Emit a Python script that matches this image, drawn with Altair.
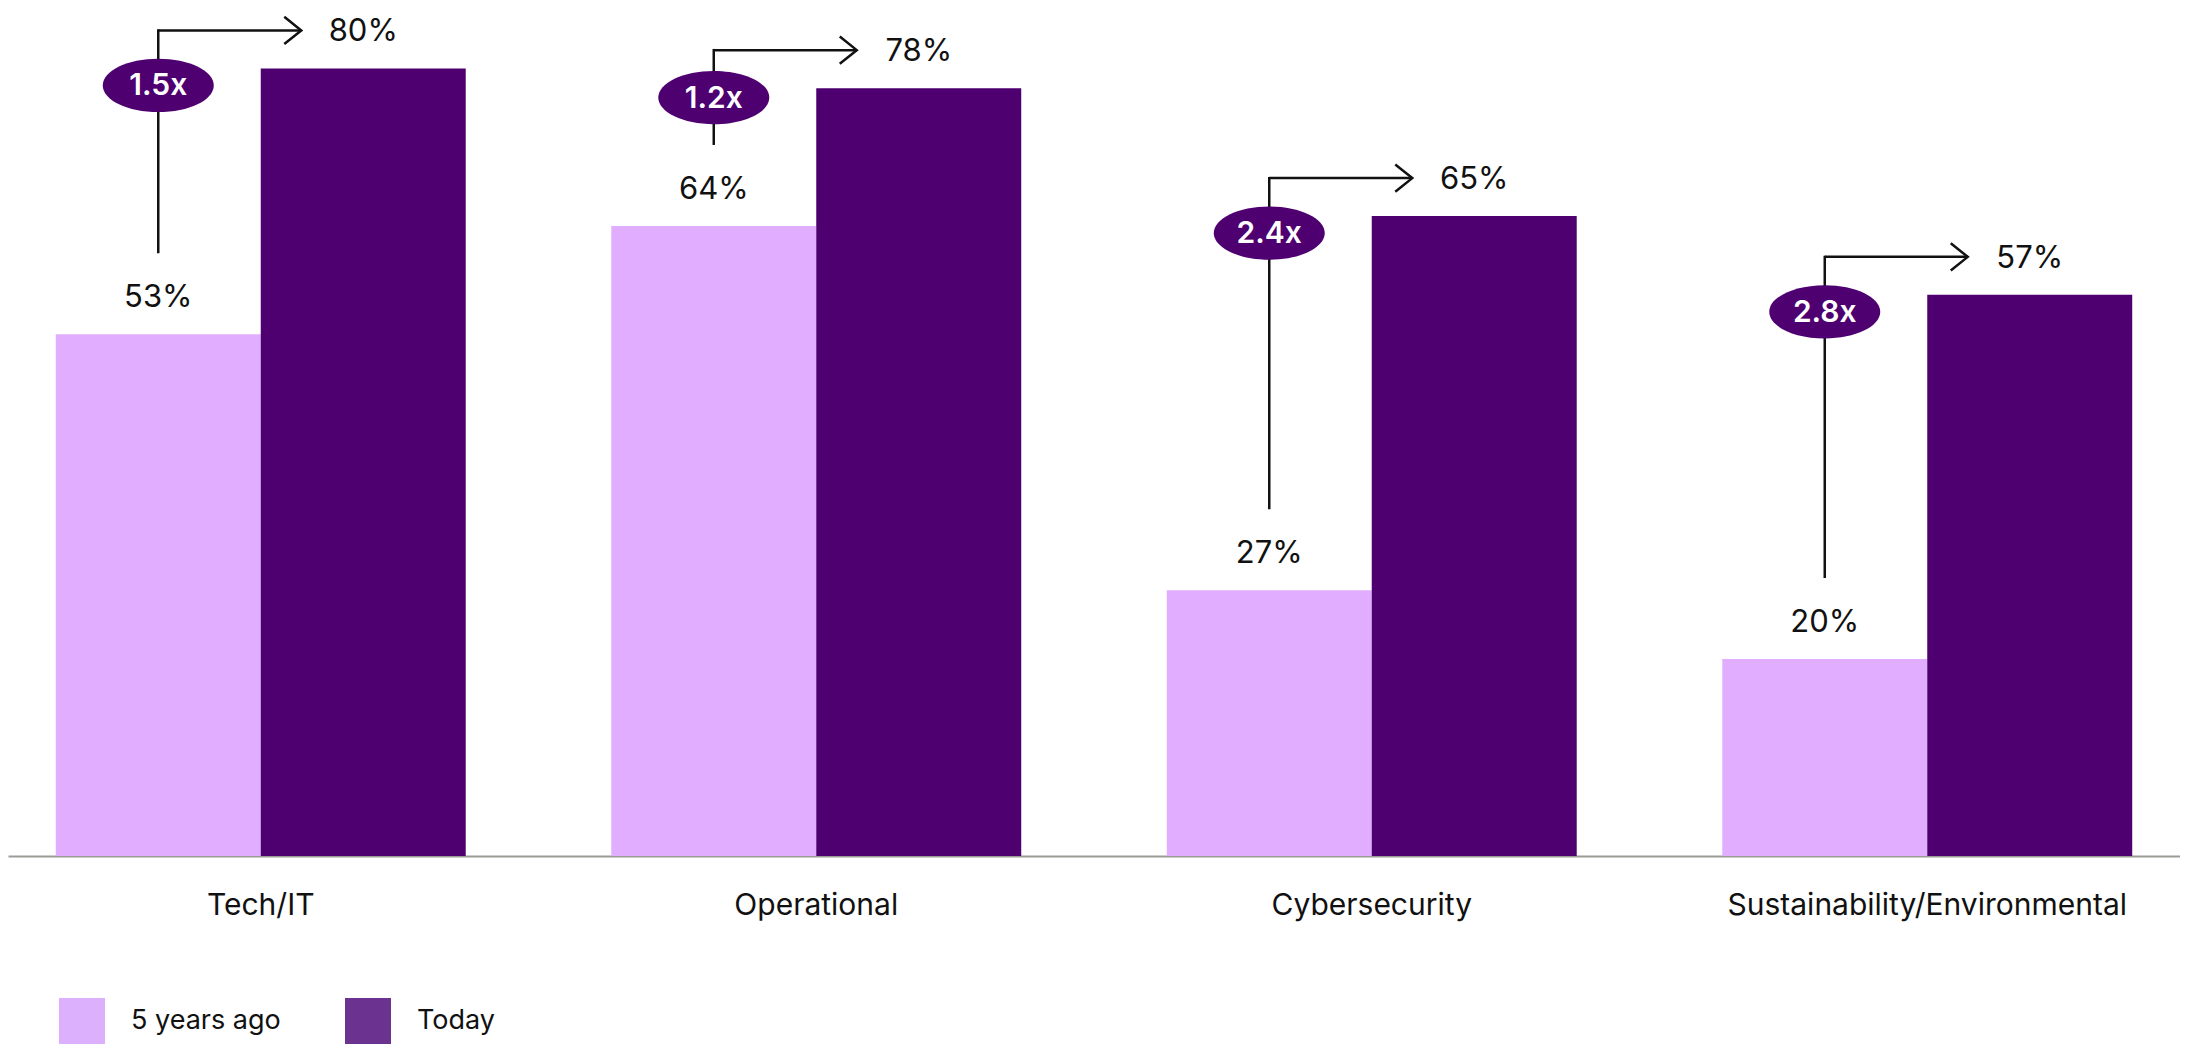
import altair as alt
import pandas as pd

# ---- data ----
categories = ["Tech/IT", "Operational", "Cybersecurity", "Sustainability/Environmental"]
five_years_ago = [53, 64, 27, 20]
today = [80, 78, 65, 57]
ratios = ["1.5x", "1.2x", "2.4x", "2.8x"]
series = ["5 years ago", "Today"]

# ---- styling / layout constants ----
LIGHT = "#E1AEFF"
DARK = "#4E0070"
LEG_LIGHT = "#DCB0FD"
LEG_DARK = "#6C3290"
INK = "#111111"
FONT = "Inter"

W, H = 2172, 848
YMAX = 86.14
PX = H / YMAX                # pixels per percentage point
P_IN, P_OUT = 0.262, 0.086
STEP = W / (len(categories) - P_IN + 2 * P_OUT)
BW = STEP * (1 - P_IN)
Q = BW / 4                   # offset from band centre to each bar centre
ARROW = 143                  # length of the horizontal bracket
BRACKET_UP = 38              # bracket line above the "Today" bar top (px)
STEM_UP = 81                 # stem start above the "5 years ago" bar top (px)

long = pd.DataFrame({
    "category": [c for c in categories for _ in series],
    "series": [s for _ in categories for s in series],
    "value": [v for pair in zip(five_years_ago, today) for v in pair],
})
long["label"] = long["value"].astype(str) + "%"

ann = pd.DataFrame({
    "category": categories,
    "v5": five_years_ago,
    "vt": today,
    "ratio": ratios,
})
ann["badge"] = [
    max(t - 17 / PX, ((t + BRACKET_UP / PX) + (f + STEM_UP / PX)) / 2)
    for f, t in zip(five_years_ago, today)
]

xenc = alt.X(
    "category:N",
    sort=categories,
    scale=alt.Scale(paddingInner=P_IN, paddingOuter=P_OUT),
    axis=alt.Axis(
        title=None, labelAngle=0, ticks=False, tickSize=0, labelPadding=34,
        labelFont=FONT, labelFontSize=30, labelColor=INK, labelLimit=800,
        domainColor="#9C9C96", domainWidth=2,
    ),
)
yscale = alt.Scale(domain=[0, YMAX], nice=False, zero=True)

bars = alt.Chart(long).mark_bar().encode(
    x=xenc,
    xOffset=alt.XOffset("series:N", sort=series),
    y=alt.Y("value:Q", scale=yscale, axis=None),
    color=alt.Color("series:N", sort=series,
                    scale=alt.Scale(domain=series, range=[LIGHT, DARK]), legend=None),
)

def value_labels(sname, off):
    return alt.Chart(long).transform_filter(alt.datum.series == sname).mark_text(
        font=FONT, fontSize=31, color=INK, baseline="alphabetic", align="center",
        dy=-27, xOffset=off,
    ).encode(x=alt.X("category:N", sort=categories), y=alt.Y("value:Q", scale=yscale), text="label:N")

lab5 = value_labels("5 years ago", -Q)
labT = value_labels("Today", Q)

stem = alt.Chart(ann).mark_rule(
    color=INK, strokeWidth=2.5, xOffset=-Q, yOffset=-STEM_UP, y2Offset=-(BRACKET_UP + 1.2),
).encode(x=alt.X("category:N", sort=categories), y=alt.Y("v5:Q", scale=yscale), y2="vt:Q")

hline = alt.Chart(ann).mark_tick(
    color=INK, thickness=2.5, size=ARROW, opacity=1,
    xOffset=-Q + ARROW / 2, yOffset=-BRACKET_UP,
).encode(x=alt.X("category:N", sort=categories), y=alt.Y("vt:Q", scale=yscale))

chevron = alt.Chart(ann).mark_point(
    shape="M-1,-0.8L0,0L-1,0.8", size=1156, filled=False, stroke=INK, strokeWidth=2.5,
    opacity=1, xOffset=-Q + ARROW, yOffset=-BRACKET_UP,
).encode(x=alt.X("category:N", sort=categories), y=alt.Y("vt:Q", scale=yscale))

ELLIPSE = ("M-1,0 C-1,-0.265 -0.552,-0.48 0,-0.48 C0.552,-0.48 1,-0.265 1,0 "
           "C1,0.265 0.552,0.48 0,0.48 C-0.552,0.48 -1,0.265 -1,0 Z")
badge = alt.Chart(ann).mark_point(
    shape=ELLIPSE, size=111 * 111, filled=True, fill=DARK, strokeWidth=0, opacity=1, xOffset=-Q,
).encode(x=alt.X("category:N", sort=categories), y=alt.Y("badge:Q", scale=yscale))

badge_text = alt.Chart(ann).mark_text(
    font=FONT, fontSize=30, fontWeight=600, color="white", baseline="middle",
    align="center", xOffset=-Q, dy=1,
).encode(x=alt.X("category:N", sort=categories), y=alt.Y("badge:Q", scale=yscale), text="ratio:N")

legend_layer = alt.Chart(long).mark_square(size=0, opacity=1).encode(
    x=alt.X("category:N", sort=categories),
    y=alt.Y("value:Q", scale=yscale),
    color=alt.Color(
        "series:N", sort=series,
        scale=alt.Scale(domain=series, range=[LEG_LIGHT, LEG_DARK]),
        legend=alt.Legend(
            title=None, orient="none", legendX=51, legendY=990, direction="horizontal",
            symbolType="square", symbolSize=2116, symbolStrokeWidth=0, symbolOpacity=1,
            labelFont=FONT, labelFontSize=27, labelColor=INK, labelOffset=26,
            columnPadding=64, padding=0, labelLimit=400,
        ),
    ),
)

chart = alt.layer(
    bars, lab5, labT, stem, hline, chevron, badge, badge_text, legend_layer
).resolve_scale(color="independent").properties(
    width=W, height=H, padding=0, background="white"
).configure_view(stroke=None)

chart.save("out.html", embed_options={"renderer": "svg", "actions": False})
